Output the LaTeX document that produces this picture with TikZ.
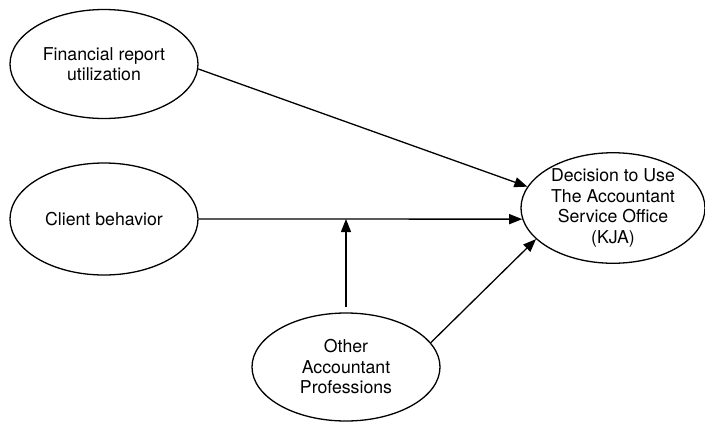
\documentclass[tikz,border=0pt]{standalone}
\usepackage{fontspec}
\setmainfont{TeX Gyre Heros}
\usepackage{tikz}
\usetikzlibrary{shapes.geometric, arrows.meta, calc}

\tikzset{
  construct/.style={draw, ellipse, line width=1.3pt, inner sep=0pt, align=center,
    font=\fontsize{17.7}{20.5}\selectfont},
  link/.style={line width=1.3pt, -{Triangle[length=13pt, width=10pt]}}
}

\begin{document}
\begin{tikzpicture}[x=1pt, y=-1pt]
  \useasboundingbox (0, 0) rectangle (705, 421);

  % Independent variables
  \node[construct, minimum width=188pt, minimum height=109pt] (fin) at (104, 64) {Financial report\\utilization};
  \node[construct, minimum width=188pt, minimum height=112pt] (client) at (104, 219) {Client behavior};

  % Moderator
  \node[construct, minimum width=188pt, minimum height=108pt] (other) at (346, 367) {Other\\Accountant\\Professions};

  % Dependent variable
  \node[construct, minimum width=184pt, minimum height=110pt] (kja) at (613, 208) {Decision to Use\\The Accountant\\Service Office\\(KJA)};

  % Paths
  \draw[link] (fin.-3) -- (kja.166);
  \draw[link] (client.east) -- (kja.187);
  \draw[link] (other.16) -- (kja.202);
  \coordinate (join) at (other.north |- client.east);
  \draw[link, shorten <=5pt] (other.north) -- (join);
\end{tikzpicture}
\end{document}
